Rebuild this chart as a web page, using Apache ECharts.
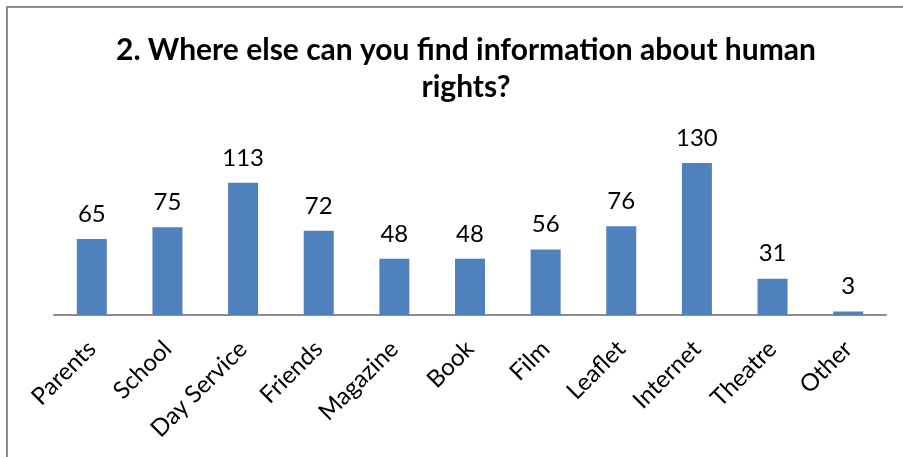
<!DOCTYPE html>
<html>
<head>
<meta charset="utf-8">
<script src="https://cdn.jsdelivr.net/npm/echarts@6/dist/echarts.min.js"></script>
<style>
  html, body { margin: 0; padding: 0; background: #fff; }
  #chart { width: 903px; height: 457px; }
</style>
</head>
<body>
<div id="chart"></div>
<script>
const categories = ['Parents', 'School', 'Day Service', 'Friends', 'Magazine', 'Book', 'Film', 'Leaflet', 'Internet', 'Theatre', 'Other'];
const responses = [65, 75, 113, 72, 48, 48, 56, 76, 130, 31, 3];
const titleText = '2. Where else can you find information about human\nrights?';

const FONT = 'Lato, "Open Sans", sans-serif';
const chart = echarts.init(document.getElementById('chart'), null, { renderer: 'canvas' });

chart.setOption({
  animation: false,
  backgroundColor: '#ffffff',
  graphic: [{
    type: 'rect',
    shape: { x: 7, y: 7, width: 1000, height: 1000 },
    style: { fill: 'none', stroke: '#8c8c8c', lineWidth: 2 },
    silent: true,
    z: 100
  }],
  title: {
    text: titleText,
    left: 461,
    top: 27,
    textAlign: 'center',
    textStyle: {
      fontFamily: FONT,
      fontSize: 30,
      fontWeight: 'bold',
      color: '#000',
      lineHeight: 37
    }
  },
  grid: {
    left: 54,
    right: 17,
    top: 151.3,
    bottom: 142,
    containLabel: false
  },
  xAxis: {
    type: 'category',
    data: categories,
    axisLine: { show: true, lineStyle: { color: '#8c8c8c', width: 2 } },
    axisTick: { show: false },
    axisLabel: {
      rotate: 45,
      margin: 30,
      interval: 0,
      fontFamily: FONT,
      fontSize: 24,
      color: '#000'
    }
  },
  yAxis: {
    type: 'value',
    min: 0,
    max: 140,
    show: false,
    splitLine: { show: false }
  },
  series: [{
    type: 'bar',
    data: responses,
    barWidth: 30,
    itemStyle: { color: '#4f81bd' },
    label: {
      show: true,
      position: 'top',
      distance: 13,
      fontFamily: FONT,
      fontSize: 24,
      color: '#000'
    }
  }]
});
</script>
</body>
</html>
